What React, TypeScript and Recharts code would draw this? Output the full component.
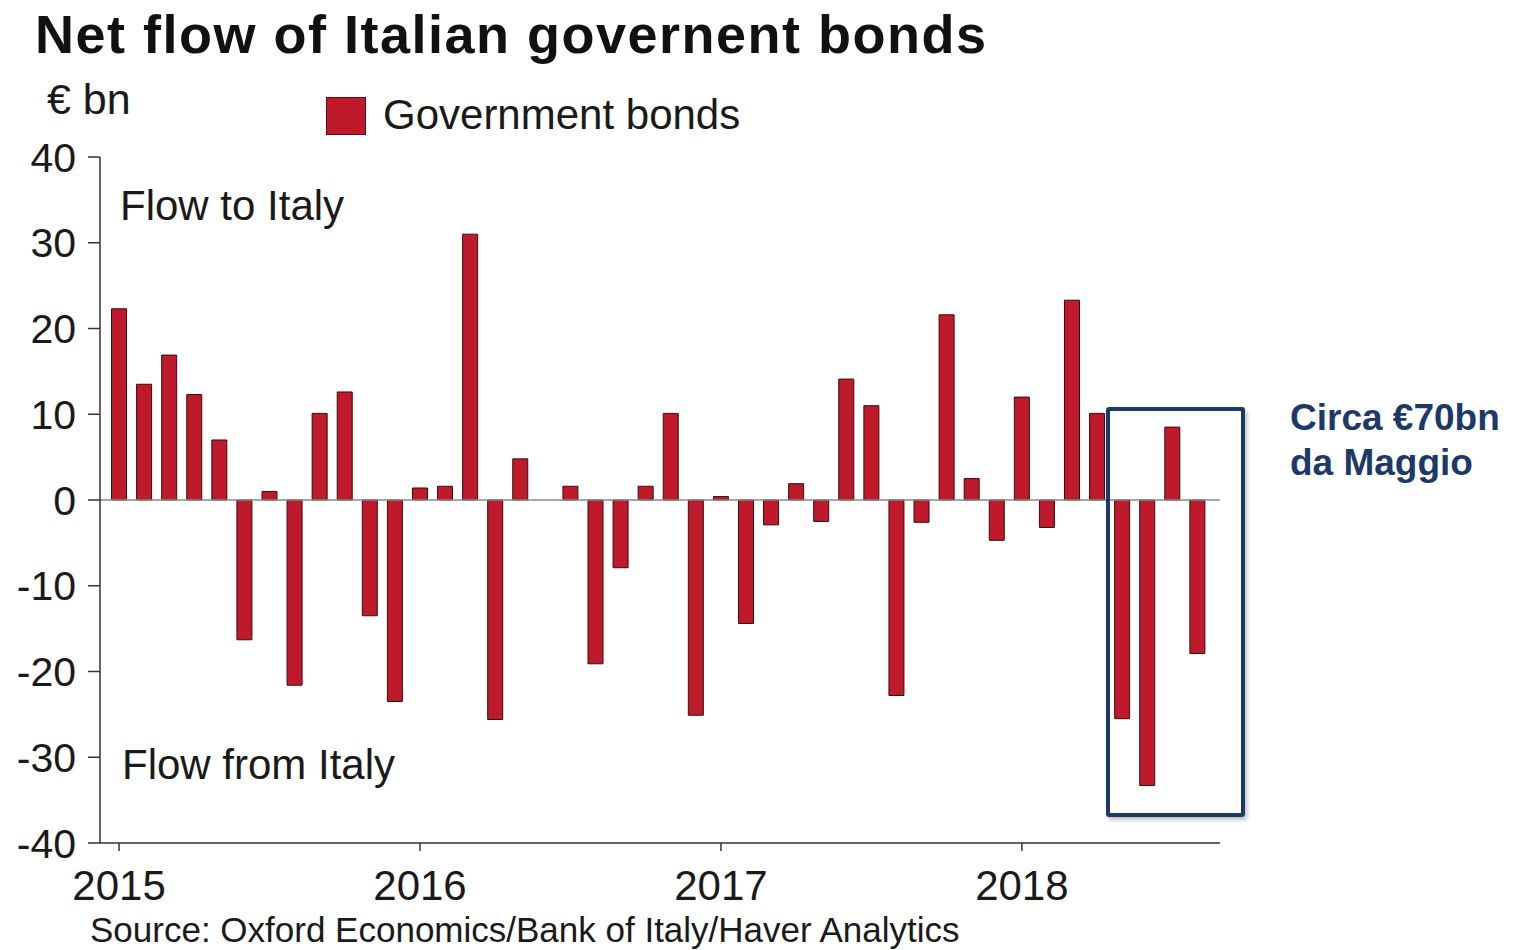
import React from "react";
import { BarChart, Bar, XAxis, YAxis, ReferenceLine } from "recharts";

const months: string[] = [
  "2015-01","2015-02","2015-03","2015-04","2015-05","2015-06","2015-07","2015-08","2015-09","2015-10","2015-11","2015-12",
  "2016-01","2016-02","2016-03","2016-04","2016-05","2016-06","2016-07","2016-08","2016-09","2016-10","2016-11","2016-12",
  "2017-01","2017-02","2017-03","2017-04","2017-05","2017-06","2017-07","2017-08","2017-09","2017-10","2017-11","2017-12",
  "2018-01","2018-02","2018-03","2018-04","2018-05","2018-06","2018-07","2018-08",
];

const governmentBonds: number[] = [
  22.3, 13.5, 16.9, 12.3, 7.0, -16.3, 1.0, -21.6, 10.1, 12.6, -13.5, -23.5,
  1.4, 1.6, 31.0, -25.6, 4.8, 0, 1.6, -19.1, -7.9, 1.6, 10.1, -25.1,
  0.4, -14.4, -2.9, 1.9, -2.5, 14.1, 11.0, -22.8, -2.6, 21.6, 2.5, -4.7,
  12.0, -3.2, 23.3, 10.1, -25.5, -33.3, 8.5, -17.9,
];

const yearTickIndex: number[] = [0, 12, 24, 36];
const yearTickLabels: string[] = ["2015", "2016", "2017", "2018"];
const yTicks: number[] = [-40, -30, -20, -10, 0, 10, 20, 30, 40];

const data = months.map((m, i) => ({ idx: i, month: m, value: governmentBonds[i] }));

const FONT = '"Liberation Sans", Arial, Helvetica, sans-serif';
const BAR_RED = "#BE1A2B";
const NAVY = "#1B3A68";

export default function App() {
  return (
    <div style={{ position: "absolute", left: 0, top: 0, width: 1516, height: 950, background: "#fff", fontFamily: FONT, overflow: "hidden" }}>
      <div style={{ position: "absolute", left: 35, top: 3, fontSize: 54, fontWeight: 700, color: "#111", letterSpacing: 1.5, whiteSpace: "nowrap" }}>
        Net flow of Italian governent bonds
      </div>
      <div style={{ position: "absolute", left: 47, top: 75, fontSize: 43, color: "#1a1a1a", whiteSpace: "nowrap" }}>€ bn</div>
      <div style={{ position: "absolute", left: 326, top: 97, width: 40, height: 38, background: BAR_RED, border: "1px solid #5a0d12", boxSizing: "border-box" }} />
      <div style={{ position: "absolute", left: 383, top: 91, fontSize: 42, color: "#1a1a1a", whiteSpace: "nowrap" }}>Government bonds</div>

      <BarChart
        width={1516}
        height={950}
        data={data}
        margin={{ top: 157, right: 296, bottom: 47, left: 0 }}
        style={{ position: "absolute", left: 0, top: 0 }}
      >
        <XAxis
          dataKey="idx"
          type="number"
          domain={[-0.76, 43.9]}
          ticks={yearTickIndex}
          tickFormatter={(v: number) => yearTickLabels[yearTickIndex.indexOf(v)] ?? ""}
          allowDataOverflow
          height={60}
          tickSize={8}
          tickMargin={19}
          stroke="#333"
          strokeWidth={1.5}
          tick={{ fill: "#1a1a1a", fontSize: 42, fontFamily: FONT }}
        />
        <YAxis
          domain={[-40, 40]}
          ticks={yTicks}
          width={100}
          tickSize={12}
          tickMargin={12}
          stroke="#333"
          strokeWidth={1.5}
          tick={{ fill: "#1a1a1a", fontSize: 41, fontFamily: FONT }}
        />
        <ReferenceLine y={0} stroke="#8a8a8a" strokeWidth={1.5} />
        <Bar dataKey="value" barSize={15} fill={BAR_RED} stroke="#3d0a0c" strokeWidth={1} isAnimationActive={false} />
      </BarChart>

      <div style={{ position: "absolute", left: 120, top: 182, fontSize: 42, color: "#1a1a1a", whiteSpace: "nowrap" }}>Flow to Italy</div>
      <div style={{ position: "absolute", left: 122, top: 741, fontSize: 42, color: "#1a1a1a", whiteSpace: "nowrap" }}>Flow from Italy</div>
      <div style={{ position: "absolute", left: 90, top: 910, fontSize: 35, color: "#1a1a1a", whiteSpace: "nowrap" }}>
        Source: Oxford Economics/Bank of Italy/Haver Analytics
      </div>

      <div style={{ position: "absolute", left: 1106, top: 407, width: 139, height: 410, border: `4px solid ${NAVY}`, borderRadius: 3, boxSizing: "border-box", boxShadow: "2px 3px 4px rgba(0,0,0,0.25)" }} />
      <div style={{ position: "absolute", left: 1290, top: 395, fontSize: 37, fontWeight: 700, color: NAVY, lineHeight: "45px", whiteSpace: "nowrap" }}>
        Circa €70bn
        <br />
        da Maggio
      </div>
    </div>
  );
}
